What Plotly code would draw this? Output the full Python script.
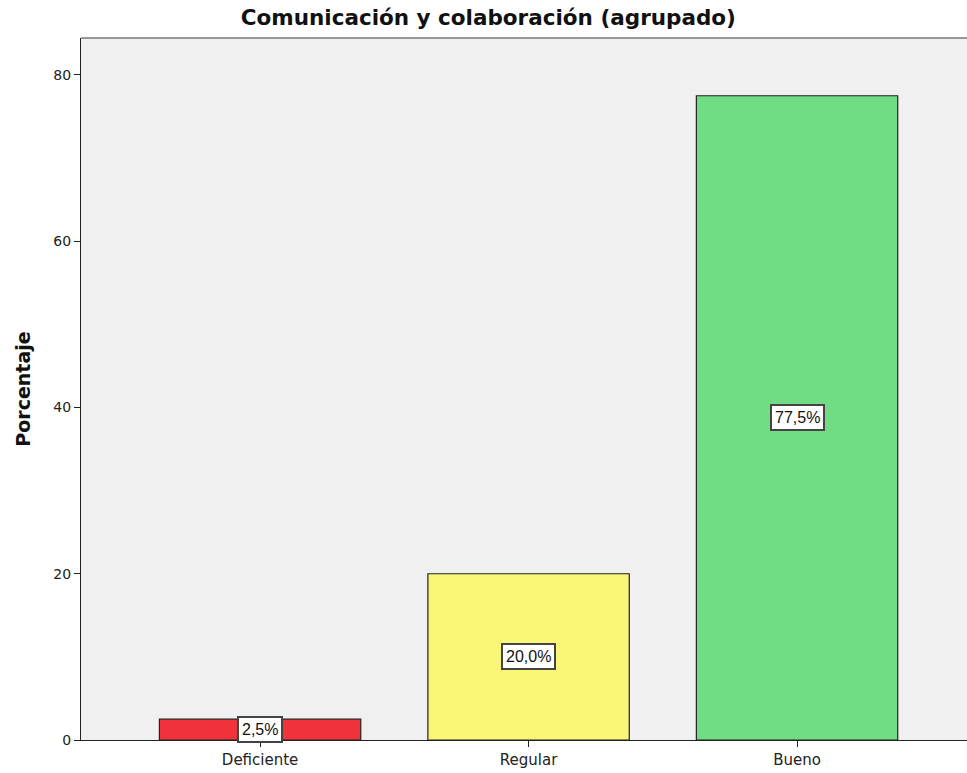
import plotly.graph_objects as go

categories = ["Deficiente", "Regular", "Bueno"]
percentages = [2.5, 20.0, 77.5]
labels = ["2,5%", "20,0%", "77,5%"]
colors = ["#F0333A", "#FAF678", "#70DC84"]
y_ticks = [0, 20, 40, 60, 80]

FONT = "DejaVu Sans"

fig = go.Figure()
fig.add_trace(go.Bar(
    x=list(range(len(categories))),
    y=percentages,
    width=0.75,
    marker=dict(color=colors, line=dict(color="#222222", width=1.2)),
    hoverinfo="skip",
))

for i, (v, lab) in enumerate(zip(percentages, labels)):
    fig.add_annotation(
        x=i, y=v / 2, text=lab, showarrow=False,
        font=dict(family="Liberation Sans, Arial", size=16, color="#111111"),
        bgcolor="white", bordercolor="#444444", borderwidth=2, borderpad=3,
        xref="x", yref="y",
    )

fig.update_layout(
    width=967, height=773,
    margin=dict(l=81, r=0, t=38, b=33),
    paper_bgcolor="white",
    plot_bgcolor="#F0F0F0",
    showlegend=False,
    title=dict(
        text="<b>Comunicación y colaboración (agrupado)</b>",
        x=0.505, xanchor="center", y=0.977, yanchor="middle",
        font=dict(family=FONT, size=21.5, color="#111111"),
    ),
    xaxis=dict(
        range=[-0.667, 2.633],
        tickmode="array", tickvals=list(range(len(categories))), ticktext=categories,
        ticks="outside", ticklen=6, tickcolor="#222222", tickwidth=1.2,
        showgrid=False, zeroline=False,
        showline=True, linecolor="#222222", linewidth=1.2,
        tickfont=dict(family=FONT, size=15, color="#222222"),
    ),
    yaxis=dict(
        range=[0, 84.45],
        tickmode="array", tickvals=y_ticks,
        ticks="outside", ticklen=6, tickcolor="#222222", tickwidth=1.2,
        showgrid=False, zeroline=False,
        showline=True, linecolor="#222222", linewidth=1.2,
        tickfont=dict(family=FONT, size=14, color="#222222"),
        title=dict(text="<b>Porcentaje</b>", standoff=17,
                   font=dict(family=FONT, size=19, color="#111111")),
    ),
    shapes=[dict(type="line", xref="paper", yref="paper", x0=0, x1=1, y0=1, y1=1,
                 line=dict(color="#777777", width=1.5))],
)

fig.write_html(
    "out.html",
    config={"displayModeBar": False},
    post_script="document.body.style.margin='0';document.body.style.overflow='hidden';",
)
